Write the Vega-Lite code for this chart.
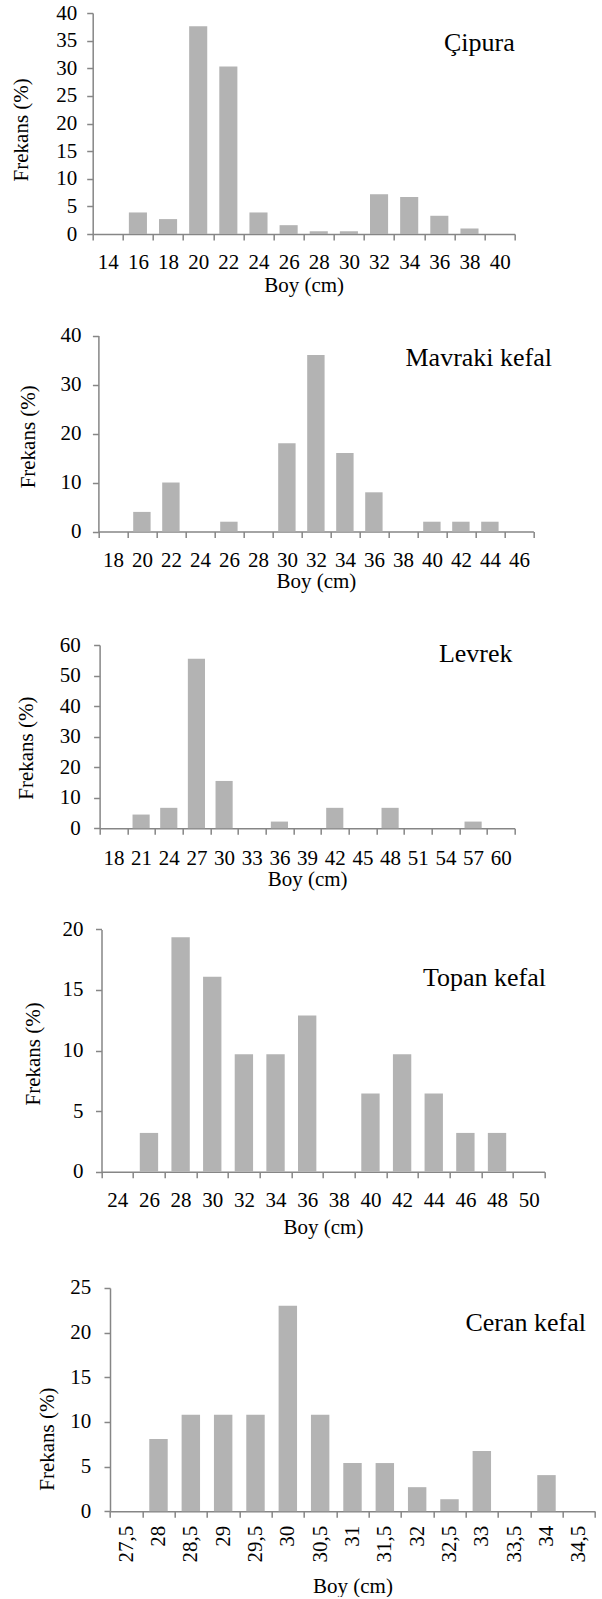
{
  "$schema": "https://vega.github.io/schema/vega-lite/v6.json",
  "autosize": {"type": "pad"},
  "padding": {"left": 10.7, "top": 2, "right": 0, "bottom": 0},
  "background": "white",
  "bounds": "flush",
  "spacing": 0,
  "config": {
    "font": "Liberation Serif",
    "view": {"stroke": null},
    "bar": {"color": "#B3B3B3"},
    "axis": {
      "domainColor": "#868686",
      "tickColor": "#868686",
      "domainWidth": 1.5,
      "tickWidth": 1.5,
      "tickSize": 6,
      "grid": false,
      "labelFont": "Liberation Serif",
      "labelFontSize": 21,
      "labelColor": "#000000",
      "labelOverlap": false,
      "titleFont": "Liberation Serif",
      "titleFontSize": 21,
      "titleFontWeight": "normal",
      "titleColor": "#000000"
    },
    "title": {
      "font": "Liberation Serif",
      "fontSize": 26,
      "fontWeight": "normal",
      "color": "#000000",
      "anchor": "end",
      "frame": "group",
      "baseline": "alphabetic",
      "offset": 0
    }
  },
  "datasets": {
    "cipura": [
      {"boy": "14", "frekans": 0}, {"boy": "16", "frekans": 3.9}, {"boy": "18", "frekans": 2.7},
      {"boy": "20", "frekans": 37.6}, {"boy": "22", "frekans": 30.3}, {"boy": "24", "frekans": 3.9},
      {"boy": "26", "frekans": 1.6}, {"boy": "28", "frekans": 0.5}, {"boy": "30", "frekans": 0.5},
      {"boy": "32", "frekans": 7.2}, {"boy": "34", "frekans": 6.7}, {"boy": "36", "frekans": 3.3},
      {"boy": "38", "frekans": 1.0}, {"boy": "40", "frekans": 0}
    ],
    "mavraki": [
      {"boy": "18", "frekans": 0}, {"boy": "20", "frekans": 4}, {"boy": "22", "frekans": 10},
      {"boy": "24", "frekans": 0}, {"boy": "26", "frekans": 2}, {"boy": "28", "frekans": 0},
      {"boy": "30", "frekans": 18}, {"boy": "32", "frekans": 36}, {"boy": "34", "frekans": 16},
      {"boy": "36", "frekans": 8}, {"boy": "38", "frekans": 0}, {"boy": "40", "frekans": 2},
      {"boy": "42", "frekans": 2}, {"boy": "44", "frekans": 2}, {"boy": "46", "frekans": 0}
    ],
    "levrek": [
      {"boy": "18", "frekans": 0}, {"boy": "21", "frekans": 4.5}, {"boy": "24", "frekans": 6.7},
      {"boy": "27", "frekans": 55.5}, {"boy": "30", "frekans": 15.5}, {"boy": "33", "frekans": 0},
      {"boy": "36", "frekans": 2.2}, {"boy": "39", "frekans": 0}, {"boy": "42", "frekans": 6.7},
      {"boy": "45", "frekans": 0}, {"boy": "48", "frekans": 6.7}, {"boy": "51", "frekans": 0},
      {"boy": "54", "frekans": 0}, {"boy": "57", "frekans": 2.2}, {"boy": "60", "frekans": 0}
    ],
    "topan": [
      {"boy": "24", "frekans": 0}, {"boy": "26", "frekans": 3.2}, {"boy": "28", "frekans": 19.35},
      {"boy": "30", "frekans": 16.1}, {"boy": "32", "frekans": 9.7}, {"boy": "34", "frekans": 9.7},
      {"boy": "36", "frekans": 12.9}, {"boy": "38", "frekans": 0}, {"boy": "40", "frekans": 6.45},
      {"boy": "42", "frekans": 9.7}, {"boy": "44", "frekans": 6.45}, {"boy": "46", "frekans": 3.2},
      {"boy": "48", "frekans": 3.2}, {"boy": "50", "frekans": 0}
    ],
    "ceran": [
      {"boy": "27,5", "frekans": 0}, {"boy": "28", "frekans": 8.1}, {"boy": "28,5", "frekans": 10.8},
      {"boy": "29", "frekans": 10.8}, {"boy": "29,5", "frekans": 10.8}, {"boy": "30", "frekans": 23.0},
      {"boy": "30,5", "frekans": 10.8}, {"boy": "31", "frekans": 5.4}, {"boy": "31,5", "frekans": 5.4},
      {"boy": "32", "frekans": 2.7}, {"boy": "32,5", "frekans": 1.35}, {"boy": "33", "frekans": 6.75},
      {"boy": "33,5", "frekans": 0}, {"boy": "34", "frekans": 4.05}, {"boy": "34,5", "frekans": 0}
    ]
  },
  "vconcat": [
    {
      "data": {"name": "cipura"},
      "width": 422, "height": 221,
      "title": {"text": "Çipura", "dx": 0, "dy": 58},
      "mark": {"type": "bar", "width": {"band": 0.6}},
      "encoding": {
        "x": {"field": "boy", "type": "nominal", "sort": null,
          "scale": {"range": [0, 422], "paddingInner": 0, "paddingOuter": 0},
          "axis": {"title": "Boy (cm)", "labelAngle": 0, "tickBand": "extent", "labelPadding": 11.5, "titleBaseline": "alphabetic", "titleY": 57.2}},
        "y": {"field": "frekans", "type": "quantitative",
          "scale": {"domain": [0, 40], "range": [221, 0], "nice": false},
          "axis": {"title": "Frekans (%)", "values": [0, 5, 10, 15, 20, 25, 30, 35, 40], "labelPadding": 10, "titleX": -61, "titleY": 116.3}}
      }
    },
    {
      "data": {"name": "mavraki"},
      "width": 440.7, "height": 297.5,
      "title": {"text": "Mavraki kefal", "dx": 18.6, "dy": 140.5},
      "mark": {"type": "bar", "width": {"band": 0.6}},
      "encoding": {
        "x": {"field": "boy", "type": "nominal", "sort": null,
          "scale": {"range": [5.7, 440.7], "paddingInner": 0, "paddingOuter": 0},
          "axis": {"title": "Boy (cm)", "labelAngle": 0, "tickBand": "extent", "labelPadding": 11.5, "titleBaseline": "alphabetic", "titleY": 55.7}},
        "y": {"field": "frekans", "type": "quantitative",
          "scale": {"domain": [0, 40], "range": [297.5, 101.5], "nice": false},
          "axis": {"title": "Frekans (%)", "values": [0, 10, 20, 30, 40], "offset": -5.7, "labelPadding": 11.4, "titleX": -59.8, "titleY": 202.3}}
      }
    },
    {
      "data": {"name": "levrek"},
      "width": 421.9, "height": 296.3,
      "title": {"text": "Levrek", "dx": -2.1, "dy": 139.3},
      "mark": {"type": "bar", "width": {"band": 0.62}},
      "encoding": {
        "x": {"field": "boy", "type": "nominal", "sort": null,
          "scale": {"range": [6.9, 421.9], "paddingInner": 0, "paddingOuter": 0},
          "axis": {"title": "Boy (cm)", "labelAngle": 0, "tickBand": "extent", "labelPadding": 13, "titleBaseline": "alphabetic", "titleY": 57.7}},
        "y": {"field": "frekans", "type": "quantitative",
          "scale": {"domain": [0, 60], "range": [296.3, 113], "nice": false},
          "axis": {"title": "Frekans (%)", "values": [0, 10, 20, 30, 40, 50, 60], "offset": -6.9, "labelPadding": 13.3, "titleX": -62.9, "titleY": 215.7}}
      }
    },
    {
      "data": {"name": "topan"},
      "width": 451.8, "height": 342.7,
      "title": {"text": "Topan kefal", "dx": 1.5, "dy": 166.4},
      "mark": {"type": "bar", "width": {"band": 0.58}},
      "encoding": {
        "x": {"field": "boy", "type": "nominal", "sort": null,
          "scale": {"range": [8.8, 451.8], "paddingInner": 0, "paddingOuter": 0},
          "axis": {"title": "Boy (cm)", "labelAngle": 0, "tickBand": "extent", "labelPadding": 11.5, "titleBaseline": "alphabetic", "titleY": 61.7}},
        "y": {"field": "frekans", "type": "quantitative",
          "scale": {"domain": [0, 20], "range": [342.7, 100.4], "nice": false},
          "axis": {"title": "Frekans (%)", "values": [0, 5, 10, 15, 20], "offset": -8.8, "labelPadding": 12.5, "titleX": -58.3, "titleY": 224.4}}
      }
    },
    {
      "data": {"name": "ceran"},
      "width": 502.3, "height": 339.3,
      "title": {"text": "Ceran kefal", "dx": -9, "dy": 168},
      "mark": {"type": "bar", "width": {"band": 0.57}},
      "encoding": {
        "x": {"field": "boy", "type": "nominal", "sort": null,
          "scale": {"range": [17.3, 502.3], "paddingInner": 0, "paddingOuter": 0},
          "axis": {"title": "Boy (cm)", "labelAngle": 270, "tickBand": "extent", "labelPadding": 8, "titleBaseline": "alphabetic", "titleY": 81.7}},
        "y": {"field": "frekans", "type": "quantitative",
          "scale": {"domain": [0, 25], "range": [339.3, 116], "nice": false},
          "axis": {"title": "Frekans (%)", "values": [0, 5, 10, 15, 20, 25], "offset": -17.3, "labelPadding": 13.3, "titleX": -52.7, "titleY": 266.7}}
      }
    }
  ]
}
